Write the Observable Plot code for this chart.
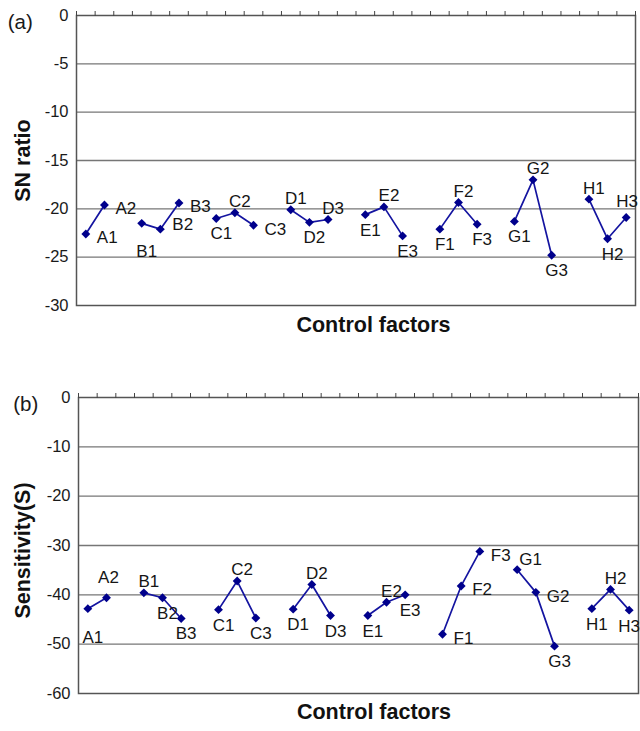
<!DOCTYPE html>
<html>
<head>
<meta charset="utf-8">
<script src="https://cdn.jsdelivr.net/npm/d3@7"></script>
<script src="https://cdn.jsdelivr.net/npm/@observablehq/plot@0.6"></script>
<style>
  html, body { margin: 0; padding: 0; background: white; }
  #chart svg { display: block; }
</style>
</head>
<body>
<div id="chart"></div>
<script>
// ---- data ----
const factors = ["A", "B", "C", "D", "E", "F", "G", "H"];
const levelCounts = [2, 3, 3, 3, 3, 3, 3, 3];

// (a) SN ratio per level, in order A1, A2, B1..B3, ..., H1..H3
const snRatio = [
  -22.6, -19.6,
  -21.5, -22.1, -19.4,
  -21.0, -20.4, -21.7,
  -20.1, -21.4, -21.1,
  -20.6, -19.8, -22.8,
  -22.1, -19.35, -21.6,
  -21.3, -17.0, -24.8,
  -19.0, -23.1, -20.9
];

// (b) Sensitivity per level
const sensitivity = [
  -42.8, -40.6,
  -39.6, -40.6, -44.8,
  -43.0, -37.2, -44.7,
  -42.9, -37.9, -44.2,
  -44.2, -41.5, -40.0,
  -48.0, -38.2, -31.2,
  -34.9, -39.5, -50.4,
  -42.8, -38.9, -43.1
];

const snTicks = [0, -5, -10, -15, -20, -25, -30];
const sTicks = [0, -10, -20, -30, -40, -50, -60];

// where each level label sits relative to its marker
const snLabelPlace = [
  "right", "right",
  "farBelow", "rightUp", "right",
  "below", "above", "right",
  "above", "below", "above",
  "below", "above", "below",
  "below", "above", "below",
  "below", "above", "below",
  "above", "below", "farAbove"
];
const sLabelPlace = [
  "farBelow", "highAbove",
  "above", "below", "below",
  "below", "above", "below",
  "below", "above", "below",
  "below", "above", "below",
  "right", "right", "right",
  "aboveRight", "right", "below",
  "below", "above", "belowLeft"
];

// ---- build rows ----
function buildRows(values, places) {
  const rows = [];
  let slot = 0, k = 0;
  factors.forEach((f, i) => {
    for (let j = 1; j <= levelCounts[i]; j++) {
      rows.push({factor: f, label: f + j, pos: slot + 0.5, value: values[k], place: places[k]});
      slot++; k++;
    }
    slot++; // empty category between factors
  });
  return {rows, slots: slot - 1};
}

const placeStyle = {
  right:      {dx: 11, dy: 4,   textAnchor: "start"},
  rightUp:    {dx: 12, dy: -5,  textAnchor: "start"},
  aboveRight: {dx: 2,  dy: -10, textAnchor: "start"},
  below:      {dx: 5,  dy: 15.5, textAnchor: "middle"},
  belowLeft:  {dx: 0,  dy: 16.5, textAnchor: "middle"},
  above:      {dx: 5,  dy: -11, textAnchor: "middle"},
  farBelow:   {dx: 5,  dy: 28.5, textAnchor: "middle"},
  farAbove:   {dx: 1,  dy: -16, textAnchor: "middle"},
  highAbove:  {dx: 2,  dy: -20, textAnchor: "middle"}
};

const font = "'Liberation Sans', Arial, Helvetica, sans-serif";
const lineColor = "#1414a0";
const markColor = "#00008c";

function panel(o) {
  const {rows, slots} = buildRows(o.values, o.places);
  const yMin = o.ticks[o.ticks.length - 1];
  const labelMarks = Object.entries(placeStyle).map(([key, s]) =>
    Plot.text(rows.filter(d => d.place === key), {
      x: "pos", y: "value", text: "label",
      dx: s.dx, dy: s.dy, textAnchor: s.textAnchor,
      fill: "#151515", fontSize: 17
    })
  );
  return Plot.plot({
    width: 640,
    height: o.height,
    marginTop: o.marginTop,
    marginBottom: o.marginBottom,
    marginLeft: o.marginLeft,
    marginRight: o.marginRight,
    style: {fontFamily: font, fontSize: "16.5px", color: "#1a1a1a", background: "white", overflow: "visible"},
    x: {domain: [0, slots], axis: null},
    y: {domain: [yMin, 0], axis: null},
    marks: [
      Plot.gridY(o.ticks.slice(1, -1), {stroke: "#767676", strokeOpacity: 1, strokeWidth: 1.3}),
      Plot.frame({stroke: "#555", strokeWidth: 1.5}),
      Plot.axisX(d3.range(0, slots + 1), {anchor: "top", tickSize: 5, tickFormat: () => "", label: null, stroke: "#444"}),
      Plot.axisY(o.ticks, {anchor: "left", tickSize: 0, tickPadding: 8, tickFormat: d => String(d), label: null, fontSize: 16.5}),
      Plot.line(rows, {x: "pos", y: "value", z: "factor", stroke: lineColor, strokeWidth: 1.7}),
      Plot.dot(rows, {x: "pos", y: "value", symbol: "diamond2", r: 4, fill: markColor, stroke: "none"}),
      ...labelMarks,
      Plot.text([o.letter], {frameAnchor: "top-left", dx: o.letterDx, dy: -1, textAnchor: "middle", fontSize: 20.5, fill: "#1a1a1a"}),
      Plot.text([o.yLabel], {frameAnchor: "left", rotate: -90, dx: o.yLabelDx, dy: o.yLabelDy, textAnchor: "middle", fontSize: 21.5, fontWeight: "bold", fill: "#111"}),
      Plot.text(["Control factors"], {frameAnchor: "bottom", dx: o.xLabelDx, dy: o.xLabelDy, textAnchor: "middle", fontSize: 21.5, fontWeight: "bold", fill: "#111"})
    ]
  });
}

const chart = document.getElementById("chart");
chart.append(panel({
  values: snRatio, places: snLabelPlace, ticks: snTicks,
  letter: "(a)", yLabel: "SN ratio", letterDx: -56.2, yLabelDx: -53, yLabelDy: 0,
  height: 365, marginTop: 15, marginBottom: 60, marginLeft: 76, marginRight: 5, xLabelDx: 17.5, xLabelDy: 26
}));
chart.append(panel({
  values: sensitivity, places: sLabelPlace, ticks: sTicks,
  letter: "(b)", yLabel: "Sensitivity(S)", letterDx: -52.7, yLabelDx: -55, yLabelDy: 5,
  height: 366, marginTop: 32, marginBottom: 38, marginLeft: 78, marginRight: 2, xLabelDx: 15.5, xLabelDy: 25
}));
</script>
</body>
</html>
